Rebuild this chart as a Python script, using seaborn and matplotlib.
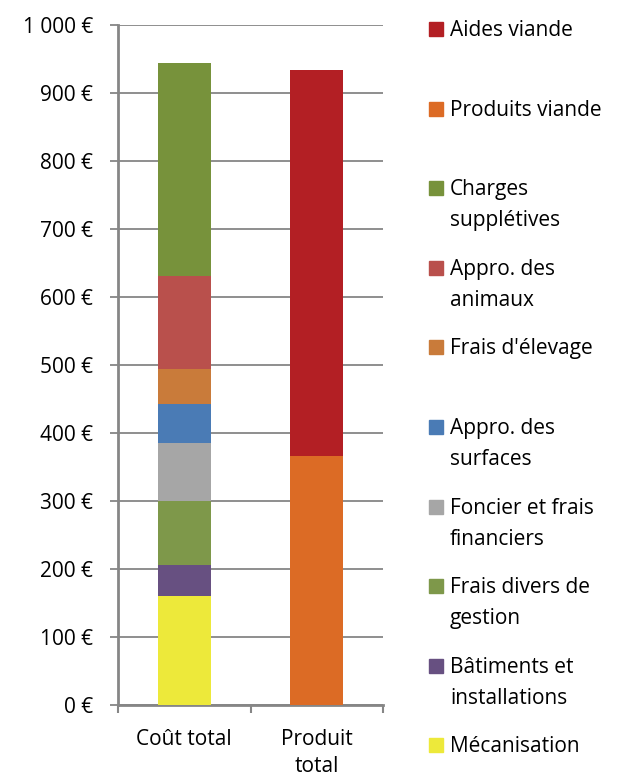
"""Coût total vs produit total — barres empilées (seaborn)."""

import matplotlib
matplotlib.use("Agg")
import matplotlib.pyplot as plt
from matplotlib.patches import Rectangle
from matplotlib.ticker import FixedLocator, FuncFormatter
import pandas as pd
import seaborn as sns

# Données (€), de bas en haut
CATEGORIES = ["Coût total", "Produit\ntotal"]

COST_LABELS = [
    "Mécanisation",
    "Bâtiments et\ninstallations",
    "Frais divers de\ngestion",
    "Foncier et frais\nfinanciers",
    "Appro. des\nsurfaces",
    "Frais d'élevage",
    "Appro. des\nanimaux",
    "Charges\nsupplétives",
]
COST_VALUES = [160, 46, 94, 85, 58, 51, 137, 313]

PRODUCT_LABELS = ["Produits viande", "Aides viande"]
PRODUCT_VALUES = [366, 568]

COLORS = {
    "Mécanisation": "#EDE93A",
    "Bâtiments et\ninstallations": "#675081",
    "Frais divers de\ngestion": "#7E984A",
    "Foncier et frais\nfinanciers": "#A6A6A6",
    "Appro. des\nsurfaces": "#4A7BB5",
    "Frais d'élevage": "#C97B3A",
    "Appro. des\nanimaux": "#B9504C",
    "Charges\nsupplétives": "#77923B",
    "Produits viande": "#DC6B25",
    "Aides viande": "#B31F24",
}

GRID = "#868686"
FONT = "Open Sans"
FS = 15

sns.set_theme(style="white")
plt.rcParams["font.family"] = [FONT, "DejaVu Sans"]
plt.rcParams["text.color"] = "black"

# table longue avec le sommet cumulé de chaque segment
rows = []
for cat, labels, values in [(CATEGORIES[0], COST_LABELS, COST_VALUES),
                            (CATEGORIES[1], PRODUCT_LABELS, PRODUCT_VALUES)]:
    top = 0
    for lab, val in zip(labels, values):
        top += val
        rows.append({"categorie": cat, "poste": lab, "valeur": val, "sommet": top})
df = pd.DataFrame(rows)

fig = plt.figure(figsize=(6.18, 7.78), dpi=100)
ax = fig.add_axes([118 / 618, 1 - 705 / 778, 265 / 618, 680 / 778])

# on dessine du haut vers le bas : chaque barre cumulée recouvre la précédente
for _, r in df.sort_values("sommet", ascending=False).iterrows():
    sns.barplot(data=pd.DataFrame([r]), x="categorie", y="sommet",
                order=CATEGORIES, color=COLORS[r["poste"]], saturation=1,
                width=0.4, ax=ax, zorder=3, linewidth=0)

ax.set_xlim(-0.5, 1.5)
ax.set_ylim(0, 1000)
ax.set_yticks(range(0, 1001, 100))
ax.yaxis.set_major_formatter(FuncFormatter(lambda v, _: f"{v:,.0f} €".replace(",", " ")))
ax.yaxis.grid(True, color=GRID, lw=1.3, zorder=1)
ax.set_axisbelow(True)
ax.set_xlabel("")
ax.set_ylabel("")

for side in ["top", "right"]:
    ax.spines[side].set_visible(False)
for side in ["left", "bottom"]:
    ax.spines[side].set_color(GRID)
    ax.spines[side].set_linewidth(2)

ax.tick_params(axis="y", which="major", left=True, length=6, width=1.3, color=GRID,
               pad=12, labelsize=FS, labelcolor="black")
ax.tick_params(axis="x", which="major", bottom=False, pad=11, labelsize=FS, labelcolor="black")
ax.xaxis.set_minor_locator(FixedLocator([-0.5, 0.5, 1.5]))
ax.tick_params(axis="x", which="minor", bottom=True, length=6, width=1.5, color=GRID)
for t in ax.get_xticklabels():
    t.set_linespacing(1.4)

# légende façon Excel (ordre inverse de l'empilement), une ligne de texte à la fois
legend_labels = PRODUCT_LABELS[::-1] + COST_LABELS[::-1]
for i, lab in enumerate(legend_labels):
    yc = 29 + i * 79.6
    fig.patches.append(Rectangle((429 / 618, 1 - (yc + 7) / 778), 14 / 618, 14 / 778,
                                 transform=fig.transFigure, color=COLORS[lab]))
    for k, line in enumerate(lab.split("\n")):
        fig.text(450 / 618, 1 - (yc + 7 + k * 31) / 778, line, fontsize=FS,
                 va="baseline", ha="left", color="black")

fig.savefig("out.png", dpi=100)
